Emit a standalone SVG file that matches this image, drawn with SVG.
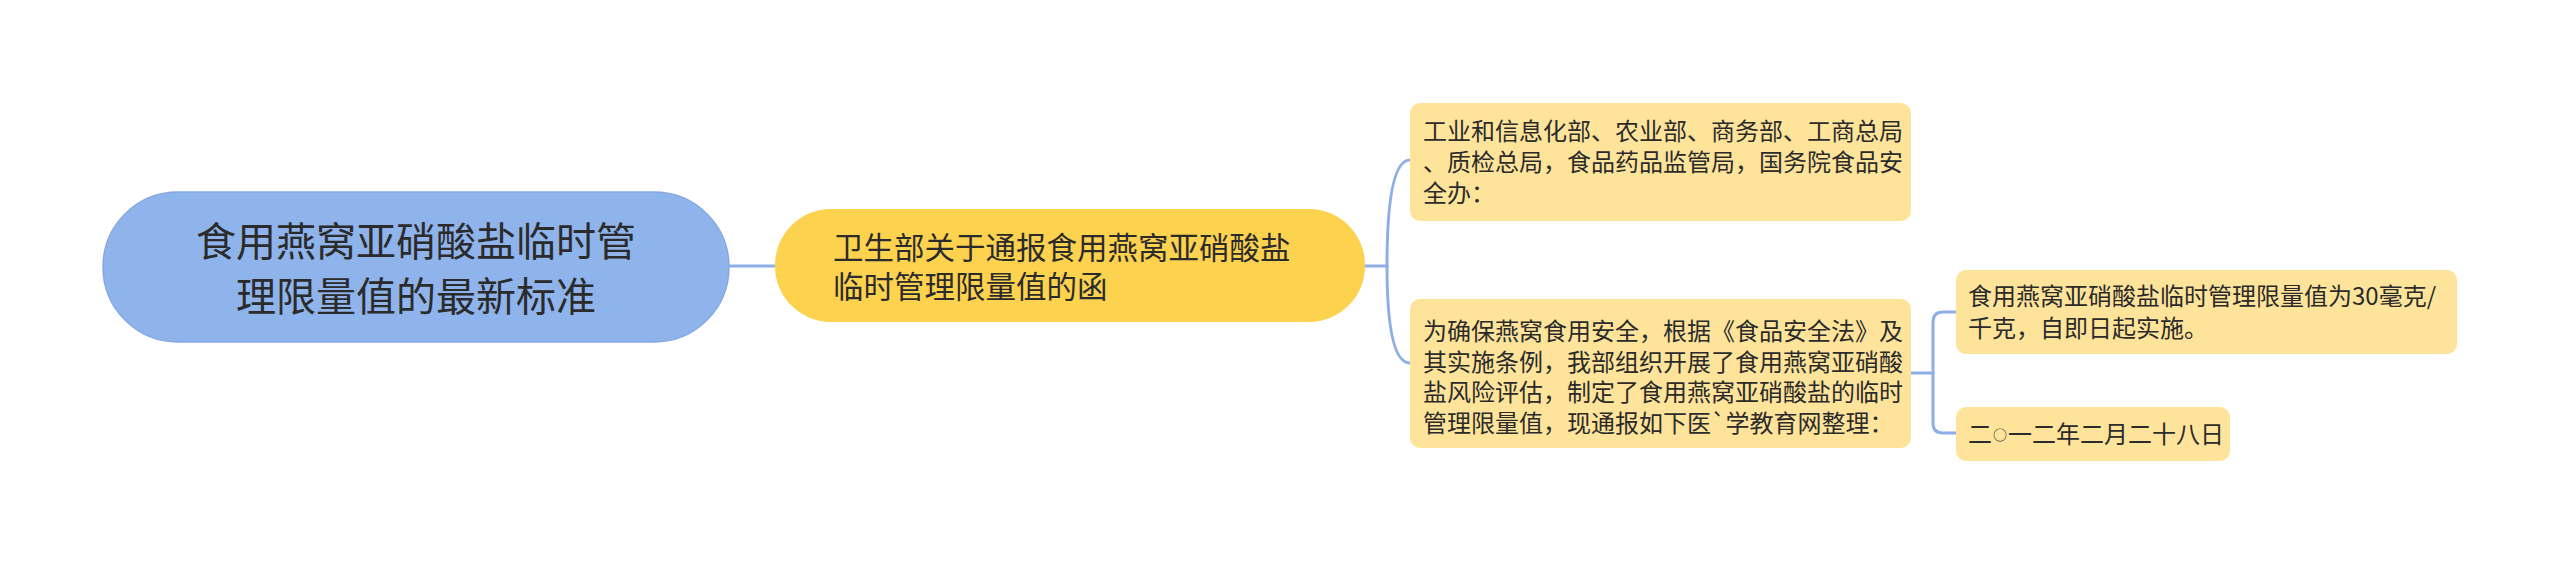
<svg xmlns="http://www.w3.org/2000/svg" width="2560" height="563" viewBox="0 0 2560 563">
<style>
.t{font-family:"Noto Sans CJK SC","Noto Sans",sans-serif;fill:#2b2b2b}
.root{fill:#8fb3eb;stroke:#86a9e3;stroke-width:1.5}
.main{fill:#fdd24f}
.leaf{fill:#fee49a}
.c{fill:none;stroke:#8eaee6;stroke-width:3;stroke-linecap:round}
</style>
<rect width="2560" height="563" fill="#ffffff"/>
<g id="connectors">
<path class="c" d="M729,266 H775"/>
<path class="c" d="M1365,266 H1387"/>
<path class="c" d="M1387,266 Q1387,160 1410,160"/>
<path class="c" d="M1387,266 Q1387,363 1410,363"/>
<path class="c" d="M1911,373 H1933"/>
<path class="c" d="M1933,373 V322 Q1933,312 1943,312 H1956"/>
<path class="c" d="M1933,373 V423 Q1933,433 1943,433 H1956"/>
</g>
<g id="root">
<rect class="root" x="103" y="192" width="626" height="150" rx="75"/>
<text class="t" font-size="40" text-anchor="middle"><tspan x="416" y="256">食用燕窝亚硝酸盐临时管</tspan><tspan x="416" y="311">理限量值的最新标准</tspan></text>
</g>
<g id="n1">
<rect class="main" x="775" y="209" width="590" height="113" rx="56"/>
<text class="t" font-size="30.5"><tspan x="833" y="259">卫生部关于通报食用燕窝亚硝酸盐</tspan><tspan x="833" y="298">临时管理限量值的函</tspan></text>
</g>
<g id="n2">
<rect class="leaf" x="1410" y="103" width="501" height="118" rx="10"/>
<text class="t" font-size="24"><tspan x="1423" y="140">工业和信息化部、农业部、商务部、工商总局</tspan><tspan x="1423" y="171">、质检总局，食品药品监管局，国务院食品安</tspan><tspan x="1423" y="202">全办：</tspan></text>
</g>
<g id="n3">
<rect class="leaf" x="1410" y="299" width="501" height="149" rx="10"/>
<text class="t" font-size="24"><tspan x="1423" y="340">为确保燕窝食用安全，根据《食品安全法》及</tspan><tspan x="1423" y="370.5">其实施条例，我部组织开展了食用燕窝亚硝酸</tspan><tspan x="1423" y="401">盐风险评估，制定了食用燕窝亚硝酸盐的临时</tspan><tspan x="1423" y="431.5">管理限量值，现通报如下医`学教育网整理：</tspan></text>
</g>
<g id="n4">
<rect class="leaf" x="1956" y="270" width="501" height="84" rx="10"/>
<text class="t" font-size="24"><tspan x="1968" y="304.5">食用燕窝亚硝酸盐临时管理限量值为30毫克/</tspan><tspan x="1968" y="336.5">千克，自即日起实施。</tspan></text>
</g>
<g id="n5">
<rect class="leaf" x="1956" y="407" width="274" height="54" rx="10"/>
<text class="t" font-size="24" x="1968" y="442.5">二<tspan font-size="14" dx="1" dy="-3">○</tspan><tspan dx="1" dy="3">一二年二月二十八日</tspan></text>
</g>
</svg>
